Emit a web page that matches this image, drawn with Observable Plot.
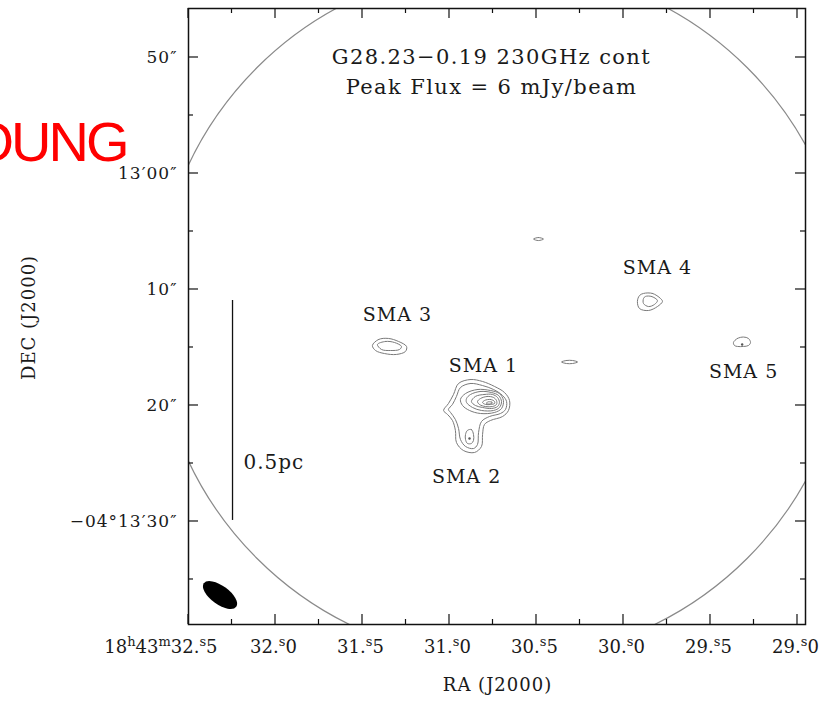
<!DOCTYPE html>
<html><head><meta charset="utf-8">
<script src="https://cdn.jsdelivr.net/npm/d3@7"></script>
<script src="https://cdn.jsdelivr.net/npm/@observablehq/plot@0.6"></script>
<style>html,body{margin:0;padding:0;background:#fff;overflow:hidden}#chart svg{display:block}</style>
</head><body><div id="chart"></div>
<script>
// ---- axes (RA in seconds of time of 18h43m, Dec in arcsec past -04°12'00")
const raTicks = [32.5, 32.0, 31.5, 31.0, 30.5, 30.0, 29.5, 29.0];
const raTickLabels = ["18h43m32.5", "32.0", "31.5", "31.0", "30.5", "30.0", "29.5", "29.0"];
const raMinorTicks = [32.25, 31.75, 31.25, 30.75, 30.25, 29.75, 29.25];
const decTicks = [50, 60, 70, 80, 90];
const decTickLabels = ["50″", "13′00″", "10″", "20″", "−04°13′30″"];
const decMinorTicks = [55, 65, 75, 85, 95];
const raDomain = [32.5, 28.954];
const decDomain = [98.88, 45.776];

// ---- contours [RA s, Dec arcsec]
const sma1Contours = [
  [[30.948,78.10],[30.879,77.76],[30.810,77.93],[30.741,78.36],[30.684,78.88],[30.655,79.57],[30.661,80.43],[30.695,80.95],[30.764,81.29],[30.799,81.64],[30.810,82.50],[30.816,83.53],[30.856,84.05],[30.920,83.88],[30.960,83.19],[30.966,82.16],[30.983,81.29],[31.011,80.78],[31.034,80.43],[31.006,79.83],[30.977,79.05]],
  [[30.937,78.45],[30.879,78.10],[30.810,78.28],[30.747,78.62],[30.695,79.14],[30.672,79.66],[30.678,80.34],[30.707,80.69],[30.770,80.95],[30.816,81.38],[30.833,82.33],[30.839,83.36],[30.862,83.71],[30.908,83.53],[30.937,82.93],[30.948,81.98],[30.966,81.21],[30.994,80.60],[31.006,80.34],[30.983,79.91],[30.960,79.22]],
  [[30.908,78.97],[30.839,78.62],[30.764,78.71],[30.713,78.97],[30.690,79.57],[30.701,80.26],[30.741,80.60],[30.822,80.69],[30.885,80.43],[30.925,80.00],[30.937,79.48]],
  [[30.879,79.05],[30.822,78.79],[30.759,78.88],[30.718,79.14],[30.701,79.66],[30.713,80.17],[30.747,80.43],[30.816,80.43],[30.868,80.17],[30.902,79.74],[30.902,79.40]],
  [[30.851,79.22],[30.799,79.05],[30.753,79.05],[30.724,79.31],[30.713,79.74],[30.724,80.09],[30.759,80.26],[30.810,80.17],[30.851,80.00],[30.874,79.66]],
  [[30.822,79.40],[30.782,79.22],[30.747,79.31],[30.730,79.57],[30.730,79.91],[30.753,80.09],[30.793,80.09],[30.828,79.91],[30.839,79.66]],
  [[30.799,79.57],[30.764,79.48],[30.741,79.66],[30.741,79.83],[30.764,79.91],[30.793,79.91],[30.810,79.74]],
  [[30.782,79.70],[30.759,79.70],[30.753,79.78],[30.770,79.87],[30.787,79.83]]
];
const sma2Contours = [
  [[30.897,82.15],[30.874,82.07],[30.862,82.50],[30.862,83.01],[30.874,83.27],[30.897,83.27],[30.908,82.93],[30.908,82.50]]
];
const sma3Contours = [
  [[31.443,74.83],[31.408,74.31],[31.351,74.22],[31.293,74.48],[31.247,74.91],[31.253,75.34],[31.305,75.60],[31.374,75.52],[31.425,75.26]],
  [[31.414,74.74],[31.368,74.48],[31.316,74.57],[31.276,74.91],[31.287,75.17],[31.339,75.26],[31.391,75.17]]
];
const sma4Contours = [
  [[29.885,70.34],[29.833,70.34],[29.787,70.78],[29.776,71.03],[29.805,71.47],[29.856,71.81],[29.908,71.64],[29.920,71.03],[29.908,70.52]],
  [[29.874,70.60],[29.839,70.60],[29.805,70.95],[29.822,71.29],[29.856,71.47],[29.885,71.21],[29.885,70.78]]
];
const sma5Contours = [
  [[29.368,74.57],[29.345,74.22],[29.310,74.10],[29.282,74.22],[29.270,74.57],[29.282,74.83],[29.310,74.91],[29.345,74.91],[29.362,74.83]]
];
const weakContours = [
  [[30.356,76.25],[30.328,76.12],[30.293,76.12],[30.264,76.25],[30.293,76.38],[30.328,76.38]],
  [[30.517,65.65],[30.489,65.52],[30.460,65.65],[30.489,65.78]]
];
const peakDotRA = [30.885, 29.318];
const peakDotDec = [82.84, 74.74];

// ---- annotations
const sourceNames = ["SMA 1", "SMA 2", "SMA 3", "SMA 4", "SMA 5"];
const sourceLabelRA = [30.805, 30.902, 31.299, 29.805, 29.310];
const sourceLabelDec = [76.55, 86.12, 72.16, 68.10, 77.07];
const titleLines = ["G28.23−0.19 230GHz cont", "Peak Flux = 6 mJy/beam"];
const titleRA = 30.759;
const titleDec = [49.96, 52.54];
const scaleBarLabel = "0.5pc";
const scaleBarRA = 32.247;
const scaleBarDec = [70.95, 89.91];
const scaleBarLabelRA = 32.184;
const scaleBarLabelDec = 84.91;
const pbCenter = [30.695, 72.07];
const pbRadius = 29.9;           // arcsec
const beamCenter = [32.316, 96.38];
const beamMajor = 3.45, beamMinor = 1.6, beamPA = 54; // arcsec, deg
const slideText = "YOUNG";
const slideTextRA = 32.856, slideTextDec = 58.88;
const xTitle = "RA (J2000)", xTitleRA = 30.724;
const yTitle = "DEC (J2000)", yTitleDec = 72.41;

// ---- build tables
const contourRows = [];
Object.entries({sma1: sma1Contours, sma2: sma2Contours, sma3: sma3Contours, sma4: sma4Contours, sma5: sma5Contours, weak: weakContours})
  .forEach(([name, rings]) => rings.forEach((ring, k) => ring.forEach(([ra, dec]) => contourRows.push({id: name + "-" + k, ra, dec}))));
const raLabel = new Map(raTicks.map((v, i) => [v, raTickLabels[i]]));
const decLabel = new Map(decTicks.map((v, i) => [v, decTickLabels[i]]));

function frameArea(dims) {
  return {x0: dims.marginLeft, x1: dims.width - dims.marginRight, y0: dims.marginTop, y1: dims.height - dims.marginBottom};
}

function primaryBeamMark(index, scales, values, dims) {
  const {x, y} = scales;
  const f = frameArea(dims);
  const pxPerArcsec = Math.abs(y(pbCenter[1] + 1) - y(pbCenter[1]));
  const g = d3.create("svg:g");
  g.append("clipPath").attr("id", "pb-clip").append("rect")
    .attr("x", f.x0).attr("y", f.y0).attr("width", f.x1 - f.x0).attr("height", f.y1 - f.y0);
  g.append("circle").attr("cx", x(pbCenter[0])).attr("cy", y(pbCenter[1]))
    .attr("r", pbRadius * pxPerArcsec).attr("fill", "none")
    .attr("stroke", "#8a8a8a").attr("stroke-width", 1.2).attr("clip-path", "url(#pb-clip)");
  return g.node();
}

function beamMark(index, scales, values, dims) {
  const {x, y} = scales;
  const pxPerArcsec = Math.abs(y(beamCenter[1] + 1) - y(beamCenter[1]));
  const g = d3.create("svg:g");
  g.append("ellipse")
    .attr("transform", `translate(${x(beamCenter[0])},${y(beamCenter[1])}) rotate(${90 - beamPA})`)
    .attr("rx", beamMajor / 2 * pxPerArcsec).attr("ry", beamMinor / 2 * pxPerArcsec)
    .attr("fill", "#000");
  return g.node();
}

function ticksMark(index, scales, values, dims) {
  const {x, y} = scales;
  const f = frameArea(dims);
  const g = d3.create("svg:g").attr("stroke", "#111").attr("stroke-width", 1.2);
  const major = 10, minor = 5;
  const tx = (v, len) => {
    g.append("line").attr("x1", x(v)).attr("x2", x(v)).attr("y1", f.y1).attr("y2", f.y1 - len);
    g.append("line").attr("x1", x(v)).attr("x2", x(v)).attr("y1", f.y0).attr("y2", f.y0 + len);
  };
  const ty = (v, len) => {
    g.append("line").attr("y1", y(v)).attr("y2", y(v)).attr("x1", f.x0).attr("x2", f.x0 + len);
    g.append("line").attr("y1", y(v)).attr("y2", y(v)).attr("x1", f.x1).attr("x2", f.x1 - len);
  };
  raTicks.forEach(v => tx(v, major));
  raMinorTicks.forEach(v => tx(v, minor));
  decTicks.forEach(v => ty(v, major));
  decMinorTicks.forEach(v => ty(v, minor));
  return g.node();
}

const plot = Plot.plot({
  width: 821, height: 701,
  marginLeft: 188, marginRight: 16, marginTop: 8, marginBottom: 77,
  x: {domain: raDomain, label: null},
  y: {domain: decDomain, label: null},
  style: {fontFamily: "DejaVu Serif", fontSize: "18px", color: "#1a1a1a", background: "#fff", letterSpacing: "1px"},
  marks: [
    primaryBeamMark,
    Plot.line(contourRows, {x: "ra", y: "dec", z: "id", curve: "catmull-rom-closed", stroke: "#7a7a7a", strokeWidth: 1}),
    Plot.dot(peakDotRA, {x: d => d, y: (d, i) => peakDotDec[i], r: 1.2, fill: "#555"}),
    Plot.text(sourceNames, {x: (d, i) => sourceLabelRA[i], y: (d, i) => sourceLabelDec[i], text: d => d, fontSize: 19, fill: "#1a1a1a"}),
    Plot.text(titleLines, {x: () => titleRA, y: (d, i) => titleDec[i], text: d => d, fontSize: 21, fill: "#1a1a1a"}),
    Plot.ruleX([scaleBarRA], {x: d => d, y1: scaleBarDec[0], y2: scaleBarDec[1], stroke: "#111", strokeWidth: 1.3}),
    Plot.text([scaleBarLabel], {x: () => scaleBarLabelRA, y: () => scaleBarLabelDec, text: d => d, textAnchor: "start", fontSize: 20, fill: "#1a1a1a"}),
    beamMark,
    ticksMark,
    Plot.frame({stroke: "#111", strokeWidth: 1.5}),
    Plot.axisX(raTicks, {anchor: "bottom", label: null, tickSize: 0, tickPadding: 16, tickFormat: d => raLabel.get(d), fontSize: 18}),
    Plot.axisY(decTicks, {anchor: "left", label: null, tickSize: 0, tickPadding: 11, tickFormat: d => decLabel.get(d), fontSize: 17}),
    Plot.text([xTitle], {x: () => xTitleRA, frameAnchor: "bottom", dy: 66, text: d => d, fontSize: 18}),
    Plot.text([yTitle], {y: () => yTitleDec, frameAnchor: "left", textAnchor: "middle", dx: -159, rotate: -90, text: d => d, fontSize: 18}),
    Plot.text([slideText], {x: () => slideTextRA, y: () => slideTextDec, text: d => d, textAnchor: "end", lineAnchor: "bottom", fill: "red", fontSize: 56, fontFamily: "Liberation Sans"})
  ]
});

const root = d3.select(plot);
// title lines are set a little wider; slide text is tight
root.selectAll("text").filter(function () { return titleLines.includes(this.textContent); }).attr("letter-spacing", "1.4px");
root.selectAll("text").filter(function () { return this.textContent === slideText; }).attr("letter-spacing", "-3px");
root.selectAll('g[aria-label="x-axis tick label"]').attr("letter-spacing", "0px");

// superscript unit marks on RA tick labels (h, m, s after the decimal point)
root.selectAll('g[aria-label="x-axis tick label"] text').each(function () {
  const s = this.textContent;
  const m = s.match(/^(?:(\d+)h(\d+)m)?(\d+)\.(\d+)$/);
  if (!m) return;
  const t = d3.select(this);
  t.text(null);
  const sup = 13, up = 7;
  if (m[1]) {
    t.attr("text-anchor", "end");
    t.append("tspan").attr("dx", 29).text(m[1]);
    t.append("tspan").attr("dy", -up).attr("font-size", sup).text("h");
    t.append("tspan").attr("dy", up).text(m[2]);
    t.append("tspan").attr("dy", -up).attr("font-size", sup).text("m");
    t.append("tspan").attr("dy", up).text(m[3] + ".");
  } else {
    t.append("tspan").attr("dx", -2).text(m[3] + ".");
  }
  t.append("tspan").attr("dy", -up).attr("font-size", sup).text("s");
  t.append("tspan").attr("dy", up).text(m[4]);
});

document.getElementById("chart").append(plot);
</script></body></html>
